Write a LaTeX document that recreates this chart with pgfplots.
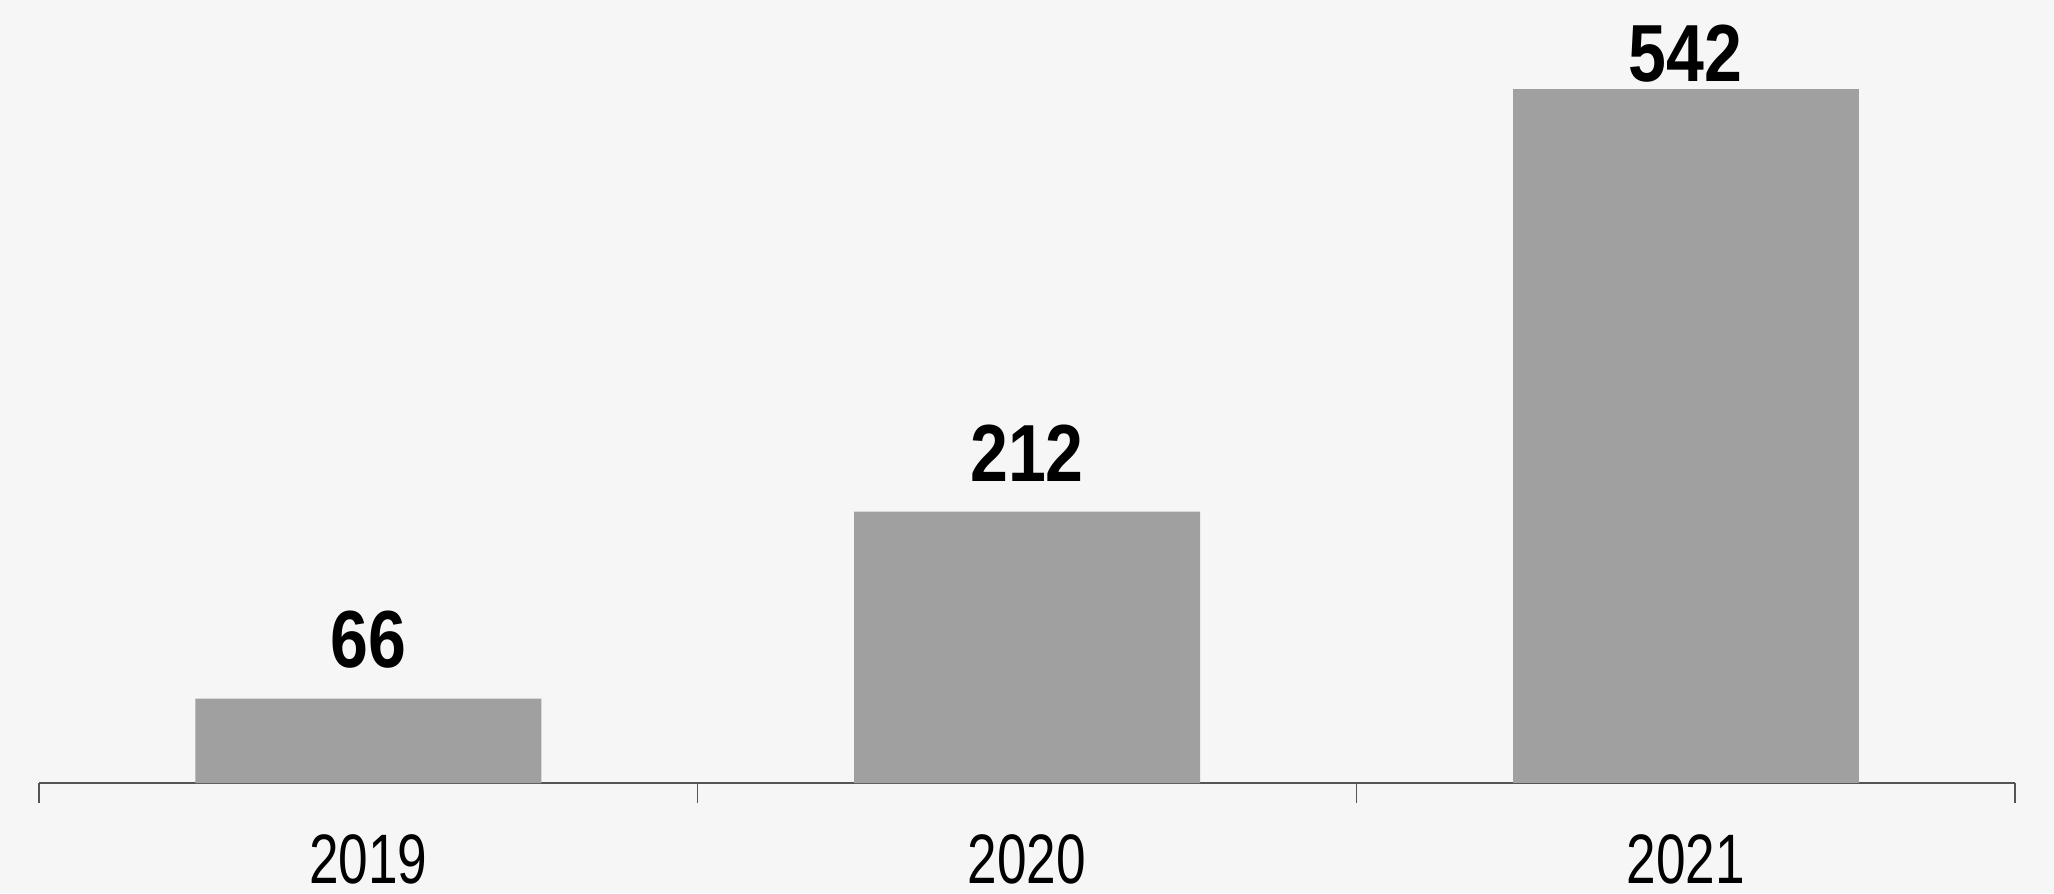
\documentclass[border=0pt]{standalone}
\usepackage{pgfplots}
\pgfplotsset{compat=1.18}
\usepackage{fontspec}
\setmainfont{Liberation Sans}
\definecolor{bgc}{HTML}{F6F6F6}
\definecolor{barc}{HTML}{A0A0A0}
\definecolor{axc}{HTML}{555555}
\newcommand{\tl}[1]{\scalebox{0.76}[1]{#1}}
\begin{document}
\begin{tikzpicture}
\path[use as bounding box, fill=bgc] (-9.75pt,-27.5pt) rectangle (503.75pt,195.75pt);
\begin{axis}[
  at={(0,0)}, anchor=south west,
  scale only axis,
  width=494pt, height=195.75pt,
  xmin=0, xmax=3, ymin=0, ymax=611.5,
  axis x line*=bottom, axis y line=none,
  x axis line style={draw=axc, line width=0.4pt, -},
  xtick={0.5,1.5,2.5},
  xticklabels={\tl{2019},\tl{2020},\tl{2021}},
  major tick length=0pt,
  minor xtick={0,1,2,3},
  minor tick length=5pt,
  tick align=outside,
  minor tick style={draw=axc, line width=0.4pt},
  xticklabel style={font=\fontsize{17.5}{18}\selectfont, inner sep=0pt, anchor=north, yshift=-12.75pt},
  /pgf/number format/assume math mode=true,
  clip=false,
  every axis plot/.append style={ybar, bar width=86.5pt, bar shift=0pt, fill=barc, draw=none},
  every node near coord/.append style={font=\bfseries\fontsize{20.25}{21}\selectfont, inner sep=0pt, anchor=south, text=black},
]
\addplot[
  nodes near coords={\scalebox{0.84}[1]{\pgfmathprintnumber[assume math mode=true]{\pgfplotspointmeta}}},
  every node near coord/.append style={yshift=7.3pt}
] coordinates {(0.5,66) (1.5,212)};
\addplot[
  nodes near coords={\scalebox{0.84}[1]{\pgfmathprintnumber[assume math mode=true]{\pgfplotspointmeta}}},
  every node near coord/.append style={yshift=1.5pt}
] coordinates {(2.5,542)};
\end{axis}
\end{tikzpicture}
\end{document}
